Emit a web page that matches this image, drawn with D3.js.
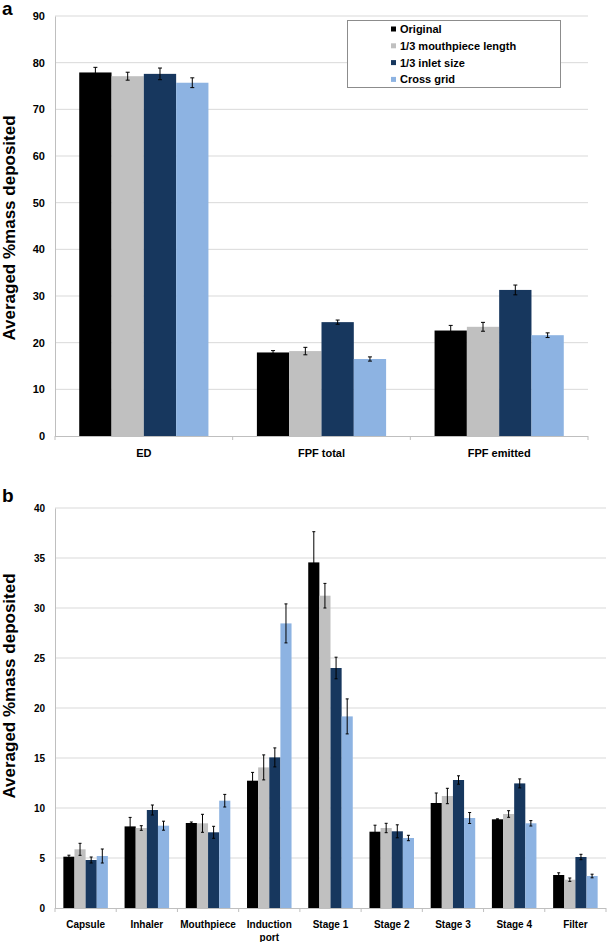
<!DOCTYPE html>
<html>
<head>
  <meta charset="utf-8">
  <script src="https://d3js.org/d3.v7.min.js"></script>
  <style>
    body { margin:0; background:#fff; }
    text { font-family: "Liberation Sans", Arial, sans-serif; font-weight: bold; fill:#000; }
  </style>
</head>
<body>
  <script>
    // series names + colours (legend order)
    var seriesNames = ["Original", "1/3 mouthpiece length", "1/3 inlet size", "Cross grid"];
    var seriesColors = ["#000000", "#c0c0c0", "#17375e", "#8db3e2"];

    // panel a
    var catsA = ["ED", "FPF total", "FPF emitted"];
    var originalA = [77.9, 17.9, 22.6];
    var mouthA    = [77.1, 18.2, 23.4];
    var inletA    = [77.6, 24.4, 31.3];
    var crossA    = [75.7, 16.5, 21.6];
    var originalErrA = [1.1, 0.4, 1.1];
    var mouthErrA    = [0.85, 0.8, 0.95];
    var inletErrA    = [1.25, 0.45, 1.05];
    var crossErrA    = [1.05, 0.45, 0.5];
    var ticksA = [0, 10, 20, 30, 40, 50, 60, 70, 80, 90];

    // panel b
    var catsB = ["Capsule", "Inhaler", "Mouthpiece", "Induction port", "Stage 1", "Stage 2", "Stage 3", "Stage 4", "Filter"];
    var originalB = [5.13, 8.16, 8.5, 12.73, 34.56, 7.63, 10.5, 8.87, 3.3];
    var mouthB    = [5.87, 8.0, 8.47, 14.06, 31.23, 8.0, 11.2, 9.4, 2.83];
    var inletB    = [4.8, 9.8, 7.57, 15.06, 24.0, 7.67, 12.8, 12.46, 5.1];
    var crossB    = [5.2, 8.23, 10.73, 28.46, 19.16, 7.0, 9.0, 8.47, 3.2];
    var originalErrB = [0.15, 0.9, 0.1, 0.83, 3.07, 0.65, 1.0, 0.05, 0.22];
    var mouthErrB    = [0.6, 0.23, 0.9, 1.25, 1.23, 0.47, 0.77, 0.33, 0.17];
    var inletErrB    = [0.3, 0.5, 0.6, 0.95, 1.08, 0.65, 0.42, 0.45, 0.27];
    var crossErrB    = [0.7, 0.45, 0.63, 1.95, 1.75, 0.27, 0.55, 0.27, 0.18];
    var ticksB = [0, 5, 10, 15, 20, 25, 30, 35, 40];

    var svg = d3.select("body").append("svg")
      .attr("width", 608)
      .attr("height", 942);

    function drawPanel(p) {
      var g = svg.append("g");
      var x0 = d3.scaleBand().domain(p.cats).range([p.left, p.right]).padding(0);
      var x1 = d3.scaleBand().domain(d3.range(seriesNames.length))
        .range([0, x0.bandwidth()]).paddingInner(0).paddingOuter(0.75);
      var y = d3.scaleLinear().domain([0, p.max]).range([p.bottom, p.top]);

      // gridlines
      g.selectAll(".grid").data(p.ticks.filter(function(t){ return t > 0; }))
        .enter().append("line")
        .attr("x1", p.left).attr("x2", p.right)
        .attr("y1", function(d){ return y(d); }).attr("y2", function(d){ return y(d); })
        .attr("stroke", "#d9d9d9").attr("stroke-width", 1);

      // y axis
      var yAxis = d3.axisLeft(y).tickValues(p.ticks).tickSize(0).tickPadding(10);
      var ya = g.append("g").attr("transform", "translate(" + p.left + ",0)").call(yAxis);
      ya.select(".domain").attr("stroke", "#bfbfbf");
      ya.selectAll("text").style("font-size", p.tickSize).style("font-family", '"Liberation Sans", Arial, sans-serif');

      // bars
      var rows = p.cats.map(function(c, i) {
        return p.series.map(function(s, k) { return { cat: c, k: k, v: s[i], e: p.errs[k][i] }; });
      });
      var flat = [].concat.apply([], rows);

      g.selectAll(".bar").data(flat).enter().append("rect")
        .attr("x", function(d){ return x0(d.cat) + x1(d.k); })
        .attr("width", x1.bandwidth())
        .attr("y", function(d){ return y(d.v); })
        .attr("height", function(d){ return y(0) - y(d.v); })
        .attr("fill", function(d){ return seriesColors[d.k]; });

      // error bars
      var cap = p.cap;
      var eb = g.selectAll(".err").data(flat).enter().append("g")
        .attr("stroke", "#000").attr("stroke-width", 1);
      eb.append("line")
        .attr("x1", function(d){ return x0(d.cat) + x1(d.k) + x1.bandwidth() / 2; })
        .attr("x2", function(d){ return x0(d.cat) + x1(d.k) + x1.bandwidth() / 2; })
        .attr("y1", function(d){ return y(d.v + d.e); })
        .attr("y2", function(d){ return y(d.v - d.e); });
      [1, -1].forEach(function(sg) {
        eb.append("line")
          .attr("x1", function(d){ return x0(d.cat) + x1(d.k) + x1.bandwidth() / 2 - cap; })
          .attr("x2", function(d){ return x0(d.cat) + x1(d.k) + x1.bandwidth() / 2 + cap; })
          .attr("y1", function(d){ return y(d.v + sg * d.e); })
          .attr("y2", function(d){ return y(d.v + sg * d.e); });
      });

      // x axis line + category boundary ticks
      g.append("line").attr("x1", p.left).attr("x2", p.right)
        .attr("y1", y(0) + 0.5).attr("y2", y(0) + 0.5)
        .attr("stroke", "#bfbfbf");
      var bounds = p.cats.map(function(c){ return x0(c); }).concat([p.right]);
      g.selectAll(".ctick").data(bounds).enter().append("line")
        .attr("x1", function(d){ return d; }).attr("x2", function(d){ return d; })
        .attr("y1", y(0)).attr("y2", y(0) + 4)
        .attr("stroke", "#bfbfbf");

      // category labels
      var lab = g.selectAll(".clab").data(p.cats).enter().append("text")
        .attr("text-anchor", "middle")
        .attr("x", function(d){ return x0(d) + x0.bandwidth() / 2; })
        .attr("y", p.labelY)
        .style("font-size", p.labelSize);
      lab.each(function(d) {
        var parts = d.split(" ");
        var t = d3.select(this);
        if (p.wrap && d === "Induction port") {
          t.append("tspan").attr("x", t.attr("x")).text(parts[0]);
          t.append("tspan").attr("x", t.attr("x")).attr("dy", 13).text(parts[1]);
        } else {
          t.text(d);
        }
      });

      // y title
      g.append("text")
        .attr("transform", "translate(15," + p.titleY + ") rotate(-90)")
        .attr("text-anchor", "middle")
        .style("font-size", "17px")
        .text("Averaged %mass deposited");

      // panel letter
      g.append("text").attr("x", 2).attr("y", p.letterY)
        .style("font-size", "19px").text(p.letter);
    }

    drawPanel({
      cats: catsA, series: [originalA, mouthA, inletA, crossA],
      errs: [originalErrA, mouthErrA, inletErrA, crossErrA],
      ticks: ticksA, max: 90,
      left: 55, right: 588, top: 16, bottom: 436,
      cap: 2, labelY: 457, labelSize: "11px", tickSize: "11px", titleY: 228,
      letter: "a", letterY: 15, wrap: false
    });

    drawPanel({
      cats: catsB, series: [originalB, mouthB, inletB, crossB],
      errs: [originalErrB, mouthErrB, inletErrB, crossErrB],
      ticks: ticksB, max: 40,
      left: 55, right: 606, top: 508, bottom: 908,
      cap: 1.5, labelY: 928, labelSize: "10px", tickSize: "10px", titleY: 686,
      letter: "b", letterY: 502, wrap: true
    });

    // legend (panel a)
    var leg = svg.append("g");
    leg.append("rect").attr("x", 347.5).attr("y", 20.5).attr("width", 213).attr("height", 67)
      .attr("fill", "#fff").attr("stroke", "#8c8c8c");
    var items = leg.selectAll(".li").data(seriesNames).enter().append("g")
      .attr("transform", function(d, i){ return "translate(391," + (29 + i * 16.8) + ")"; });
    items.append("rect").attr("x", 0).attr("y", -2.5).attr("width", 5).attr("height", 5)
      .attr("fill", function(d, i){ return seriesColors[i]; });
    items.append("text").attr("x", 9).attr("dy", "0.36em")
      .style("font-size", "11px").text(function(d){ return d; });
  </script>
</body>
</html>
